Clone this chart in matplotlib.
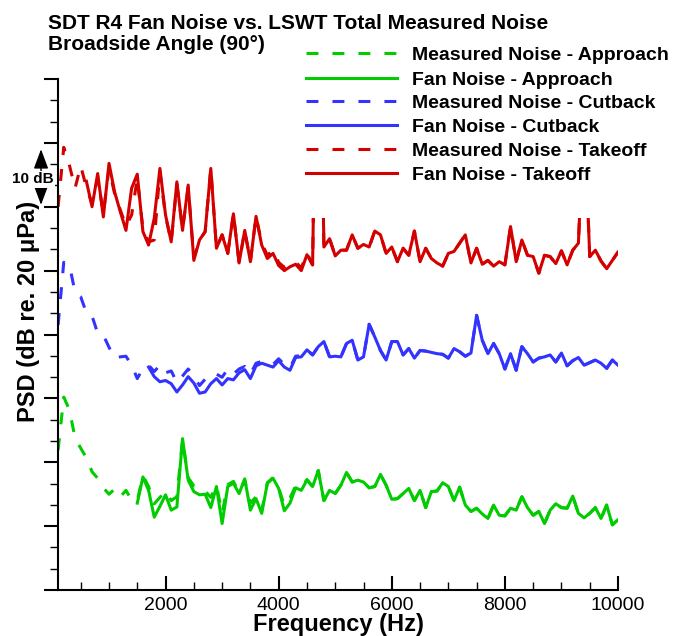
import matplotlib
matplotlib.use('Agg')

import matplotlib.pyplot as plt
import matplotlib.transforms as mtransforms
from matplotlib.lines import Line2D
from matplotlib.patches import Rectangle
from matplotlib.ticker import MultipleLocator
import numpy as np

plt.rcParams['font.family'] = ['Liberation Sans', 'DejaVu Sans']

nan = np.nan

# ---------------- DATA (PSD, dB, 100 Hz bins) ----------------
freq = np.arange(100, 10001, 100)

fan_approach = [nan] * 14 + [
    13.6,
    17.7, 15.6, 11.4, 13.1, 14.9,
    12.5, 13.0, 23.7, 17.2, 15.4,
    14.9, 15.0, 12.9, 16.2, 10.4,
    16.2, 16.7, 15.1, 17.4, 12.5,
    14.3, 12.0, 16.7, 17.5, 15.9,
    12.4, 13.6, 16.0, 15.6, 17.2,
    16.2, 18.7, 14.0, 15.6, 15.1,
    16.4, 18.4, 16.9, 17.2, 16.9,
    16.0, 16.2, 18.1, 16.4, 14.2,
    14.3, 15.1, 15.9, 14.0, 15.6,
    12.9, 15.4, 15.5, 16.8, 16.2,
    14.0, 16.1, 13.3, 12.3, 12.8,
    11.9, 11.2, 13.3, 11.7, 11.6,
    12.8, 12.5, 14.6, 12.9, 11.7,
    12.3, 10.4, 12.5, 13.5, 12.9,
    12.8, 14.7, 12.0, 11.3, 12.0,
    12.9, 11.2, 13.3, 10.2, 11.0]

meas_approach_low = [
    21.9, 30.2, 28.2, 23.8, 22.2,
    20.7, 18.5, 17.5, 16.0, 15.0,
    15.8, 14.6, 15.6, 14.1, 14.0,
    17.9, 16.2, 13.5, 14.5, 15.5,
    14.0, 14.6, 23.5, 17.6, 16.3,
    16.2, 15.5, 14.5, 16.4, 12.0,
    16.5, 17.0, 15.3, 17.2, 13.6,
    14.6, 12.4, 16.8, 17.6, 16.0,
    13.2, 14.4, 16.3, 16.0, 17.3]
meas_approach = meas_approach_low + fan_approach[len(meas_approach_low):]

fan_cutback = [nan] * 16 + [
    34.9, 33.4, 32.6, 32.8,
    32.3, 31.0, 32.1, 33.4, 32.4,
    30.8, 31.0, 32.3, 33.1, 32.1,
    33.1, 32.9, 34.0, 34.5, 33.1,
    35.1, 35.5, 35.2, 34.9, 35.9,
    34.9, 34.4, 36.4, 36.5, 37.6,
    36.8, 38.1, 38.9, 36.5, 36.6,
    36.5, 38.6, 39.1, 36.0, 36.5,
    41.6, 39.6, 37.5, 36.0, 38.9,
    38.9, 36.8, 37.8, 36.3, 37.5,
    37.4, 37.2, 37.0, 36.9, 36.3,
    37.8, 37.3, 36.6, 37.1, 43.0,
    39.1, 37.0, 38.6, 37.0, 34.6,
    37.0, 34.4, 38.1, 37.0, 35.7,
    36.3, 36.5, 36.8, 35.7, 37.1,
    35.1, 35.9, 36.4, 35.2, 35.6,
    36.0, 35.5, 34.7, 36.0, 35.2]

meas_cutback_low = [
    41.5, 51.3, 50.9, 46.6, 45.9,
    43.4, 42.9, 40.2, 39.9, 38.0,
    36.3, 36.5, 36.6, 35.2, 33.1,
    34.7, 35.2, 34.2, 35.2, 34.0,
    34.3, 32.5, 33.5, 34.6, 33.5,
    32.0, 33.0, 33.0, 33.8, 33.3,
    34.6, 33.8, 34.6, 35.0, 33.8,
    35.5, 35.8, 35.6, 35.3, 36.2,
    35.3, 34.8, 36.6, 36.7, 37.6]
meas_cutback = meas_cutback_low + fan_cutback[len(meas_cutback_low):]

fan_takeoff = [nan] * 5 + [
    64.0, 60.0, 65.2, 58.4, 66.8,
    62.3, 59.2, 56.3, 62.9, 65.1,
    56.1, 54.0, 58.2, 66.0, 58.7,
    54.5, 63.9, 56.3, 63.4, 51.6,
    54.8, 56.1, 66.0, 53.5, 55.6,
    52.7, 58.9, 51.2, 56.3, 51.4,
    58.5, 54.0, 51.9, 52.7, 50.8,
    50.0, 50.6, 51.0, 50.0, 52.5,
    50.9, 110.0, 53.7, 55.0, 52.3,
    53.2, 53.2, 55.6, 53.5, 54.1,
    53.7, 56.2, 55.6, 52.7, 53.7,
    51.4, 53.5, 52.4, 56.2, 51.4,
    53.5, 51.9, 51.2, 50.7, 52.7,
    53.0, 54.3, 55.6, 51.2, 53.5,
    51.0, 51.6, 50.7, 51.4, 50.9,
    56.9, 51.4, 54.8, 52.4, 52.2,
    49.6, 52.4, 52.2, 51.1, 53.1,
    50.9, 53.2, 54.3, 75.0, 52.2,
    53.2, 51.5, 50.3, 51.6, 52.9]

meas_takeoff_low = [
    60.0, 69.3, 66.5, 62.9, 66.4,
    63.0, 60.5, 64.5, 59.0, 66.0,
    62.0, 59.5, 57.0, 58.7, 64.5,
    56.5, 54.5, 54.8, 65.5, 58.5,
    54.5, 63.5, 56.5, 63.0, 52.0,
    54.8, 56.1, 66.0, 53.5, 55.6,
    52.7, 58.9, 51.2, 56.3, 51.4,
    58.5, 54.3, 52.4, 53.2, 51.3,
    50.5, 51.1, 51.4, 50.4, 52.8]
meas_takeoff = meas_takeoff_low + fan_takeoff[len(meas_takeoff_low):]

GREEN = '#00cc00'
BLUE = '#3333ff'
RED = '#d40000'
DASH = (0, (3.9, 4.6))

series = [
    ("Measured Noise - Approach", meas_approach, GREEN, DASH),
    ("Fan Noise - Approach", fan_approach, GREEN, '-'),
    ("Measured Noise - Cutback", meas_cutback, BLUE, DASH),
    ("Fan Noise - Cutback", fan_cutback, BLUE, '-'),
    ("Measured Noise - Takeoff", meas_takeoff, RED, DASH),
    ("Fan Noise - Takeoff", fan_takeoff, RED, '-'),
]

# ---------------- FIGURE ----------------
W, H = 673, 636
fig = plt.figure(figsize=(W / 100, H / 100), dpi=100, facecolor='white')
ax = fig.add_axes([58.1 / W, (H - 590) / H, (618 - 58.1) / W, (590 - 79) / H])

for label, vals, color, ls in series:
    ax.plot(freq, vals, color=color, linestyle=ls, linewidth=2.2,
            zorder=3 if ls == '-' else 2)

ax.set_xlim(100, 10000)
ax.set_ylim(0, 80)

ax.xaxis.set_major_locator(MultipleLocator(2000))
ax.xaxis.set_minor_locator(MultipleLocator(500))
ax.yaxis.set_major_locator(MultipleLocator(10))
ax.yaxis.set_minor_locator(MultipleLocator(10 / 3))

ax.tick_params(axis='x', which='major', direction='in', length=10, width=1.5,
               labelsize=14, pad=5)
ax.tick_params(axis='x', which='minor', direction='in', length=6, width=1.0)
ax.tick_params(axis='y', which='major', direction='out', length=10, width=1.5,
               labelleft=False)
ax.tick_params(axis='y', which='minor', direction='out', length=6, width=1.0)

for s in ['top', 'right']:
    ax.spines[s].set_visible(False)
for s in ['left', 'bottom']:
    ax.spines[s].set_linewidth(1.5)

ax.set_xlabel("Frequency (Hz)", fontsize=17, fontweight='bold', labelpad=-1)
ax.set_ylabel("PSD (dB re. 20 μPa)", fontsize=17, fontweight='bold')
ax.yaxis.set_label_coords(-0.033, 0.546)

# ---------------- 10 dB SCALE MARK ----------------
trans = mtransforms.blended_transform_factory(ax.transAxes, ax.transData)
ax.annotate('', xy=(-0.0305, 69.0), xytext=(-0.0305, 60.3),
            xycoords=trans, textcoords=trans, annotation_clip=False,
            arrowprops=dict(arrowstyle='<|-|>,head_length=1.2,head_width=0.45',
                            color='black', lw=1.0, shrinkA=0, shrinkB=0,
                            mutation_scale=10))
ax.text(-0.0448, 64.3, "10 dB", transform=trans, ha='center', va='center',
        fontsize=11, fontweight='bold', clip_on=False, zorder=5,
        bbox=dict(boxstyle='square,pad=0.1', fc='white', ec='none'))

# ---------------- TITLE ----------------
fig.text(48 / W, 1 - 29.3 / H, "SDT R4 Fan Noise vs. LSWT Total Measured Noise",
         fontsize=15, fontweight='bold', va='baseline')
fig.text(48 / W, 1 - 50 / H, "Broadside Angle (90°)",
         fontsize=15, fontweight='bold', va='baseline')

# ---------------- LEGEND (white box over the plot) ----------------
fig.add_artist(Rectangle((300 / W, 1 - 218 / H), 1 - 300 / W, (218 - 40) / H,
                         transform=fig.transFigure, fc='white', ec='none', zorder=5))
rows = [53.3, 77.7, 101, 125, 149, 173]
for (label, vals, color, ls), ry in zip(series, rows):
    y = 1 - ry / H
    fig.add_artist(Line2D([306 / W, 397 / W], [y, y], color=color, linestyle=ls,
                          linewidth=2.2, transform=fig.transFigure, zorder=6))
    fig.text(412 / W, 1 - (ry + 6.9) / H, label, fontsize=14, fontweight='bold',
             va='baseline', zorder=6)

fig.savefig("out.png", dpi=100, facecolor='white')
plt.close(fig)
